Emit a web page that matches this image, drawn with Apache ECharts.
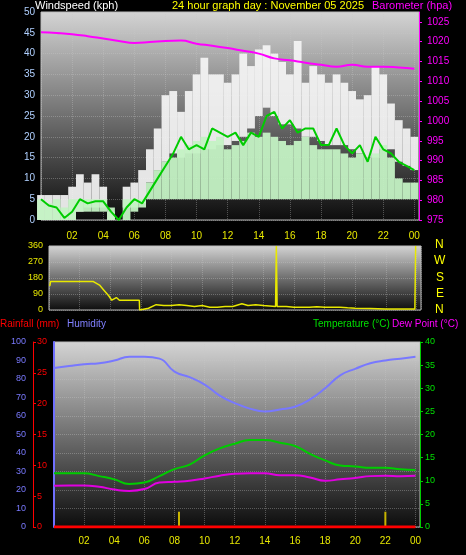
<!DOCTYPE html>
<html>
<head>
<meta charset="utf-8">
<script src="https://cdn.jsdelivr.net/npm/echarts@6/dist/echarts.min.js"></script>
<style>html,body{margin:0;padding:0;background:#000}#main{width:466px;height:555px}</style>
</head>
<body>
<div id="main"></div>
<script>
// half-hour samples 00:00 .. 24:00
var halfHours = [];
for (var i = 0; i <= 48; i++) halfHours.push(i / 2);
var gustHi = [6,6,6,6,8,11,9,11,8,2,0,8,9,12,17,22,30,31,26,31,35,39,35,35,33,35,40,37,41,42,40,38,35,43,33,37,35,33,35,33,31,29,30,37,35,28,24,22,20];
var gustLo = [0,0,0,0,0,2,3,3,3,0,0,3,3,4,9,12,14,16,15,16,16,17,17,18,18,19,20,22,25,27,25,23,23,22,20,20,19,18,18,18,17,16,15,15,17,17,14,13,12];
var windHi = [5,4,5,3,5,5,5,5,5,3,0,5,5,5,9,12,14,15,17,18,19,20,19,20,17,18,19,21,20,21,20,19,18,19,20,18,17,17,17,16,15,16,15,16,18,15,10,9,9];
var windLo = [0,0,0,0,0,2,2,2,2,0,0,0,2,3,5,5,5,5,5,5,5,5,5,5,5,5,5,5,5,5,5,5,5,5,5,5,5,5,5,5,5,5,5,5,5,5,5,5,5];
var windAvg = [5,3.5,3,0.5,2,5,4,4.5,4.5,2,0,3,5,4,7,10,13,16,20,17,18,17,22,21,20,21,18,21,20,25,26,22,24,21,22,22,18,18,22,18,16,18,14,20,17,16,14,13,12];

// hourly samples 00 .. 24
var hours = [0,1,2,3,4,5,6,7,8,9,10,11,12,13,14,15,16,17,18,19,20,21,22,23,24];
var baro = [1022.4,1022.2,1021.9,1021.4,1020.8,1020.2,1019.7,1019.9,1020.2,1020.3,1019.5,1019.0,1018.4,1017.7,1017.0,1015.8,1015.3,1014.7,1014.2,1013.7,1014.2,1013.7,1013.7,1013.5,1013.2];
var humidity = [86,87,88,88.5,90,92,92,91,84,81,77,71,67,64,62.5,63.5,65,69,75,82,85.5,88.5,90,91,92];
var temperature = [11.6,11.6,11.6,11,10.3,9.3,9.6,11,12.5,13.5,15.5,17,18,18.8,18.8,18.2,17.5,15.8,14.4,13.3,13.1,12.8,12.8,12.5,12.3];
var dewPoint = [8.9,9.0,9.0,8.7,8.1,7.8,8.2,9.6,9.8,10.0,10.5,11.1,11.5,11.6,11.6,11.2,11.2,10.7,10.0,10.3,10.6,11.0,11.1,11.0,11.1];
var rainfall = [0,0,0,0,0,0,0,0,0,0,0,0,0,0,0,0,0,0,0,0,0,0,0,0,0];
var markerHours = [8.3, 22];
var markerValue = [3.3, 3.3];

// wind direction [hour, degrees]
var windDir = [[0.05,135],[0.1,160],[2.9,160],[3.0,165],[3.3,140],[3.6,110],[3.9,80],[4.1,55],[4.4,70],[4.6,55],[5.9,55],[5.92,0],[6.5,10],[7,30],[7.5,25],[8,25],[8.5,30],[9,25],[9.5,20],[10,25],[10.5,15],[11,15],[11.5,20],[12,20],[12.6,35],[13,25],[13.5,30],[14,25],[14.8,20],[14.85,360],[14.9,20],[15.5,20],[16,15],[17,15],[17.5,18],[18,15],[19,15],[19.5,12],[20,10],[21,8],[22,5],[23,5],[23.9,5],[23.95,360]];

function pairs(xs, ys) {
    var out = [];
    for (var i = 0; i < xs.length; i++) out.push([xs[i], ys[i]]);
    return out;
}
function bands(xs, lo, hi) {
    var out = [];
    for (var i = 0; i < xs.length; i++) out.push([xs[i], lo[i], hi[i]]);
    return out;
}
function hourLabel(v) {
    var h = Math.round(v) % 24;
    return (h < 10 ? '0' : '') + h;
}
function bandRenderer(color) {
    return function (params, api) {
        var x = api.value(0);
        var p1 = api.coord([x - 0.25, api.value(2)]);
        var p2 = api.coord([x + 0.25, api.value(1)]);
        return {type: 'rect', shape: {x: p1[0], y: p1[1], width: p2[0] - p1[0], height: p2[1] - p1[1]},
            style: {fill: color}};
    };
}

var bgGrad = new echarts.graphic.LinearGradient(0, 0, 0, 1, [
    {offset: 0, color: '#d4d4d4'}, {offset: 1, color: '#0c0c0c'}
]);
var split = {show: true, lineStyle: {color: 'rgba(200,200,200,0.35)', type: 'dotted'}};
var font = 'Liberation Sans';

function timeAxis(gi, showLabels, margin) {
    return {
        type: 'value', gridIndex: gi, min: 0, max: 24.3, interval: 2,
        axisLine: {show: false}, axisTick: {show: false},
        axisLabel: {show: showLabels, color: '#e8e800', fontSize: 10, fontFamily: font,
            margin: margin, formatter: hourLabel, showMaxLabel: false, showMinLabel: false},
        splitLine: split
    };
}

var option = {
    backgroundColor: '#000',
    animation: false,
    grid: [
        {left: 41, right: 47, top: 12, bottom: 335, show: true, backgroundColor: bgGrad, borderColor: '#bbb', borderWidth: 1},
        {left: 49, right: 45, top: 246, bottom: 245, show: true, backgroundColor: bgGrad, borderColor: '#bbb', borderWidth: 1},
        {left: 54, right: 46, top: 342, bottom: 28, show: true, backgroundColor: bgGrad, borderColor: '#bbb', borderWidth: 1}
    ],
    xAxis: [
        timeAxis(0, true, 11),
        timeAxis(1, false, 8),
        timeAxis(2, true, 9)
    ],
    yAxis: [
        {type: 'value', gridIndex: 0, position: 'left', min: 0, max: 50, interval: 5,
            axisLine: {show: false}, axisTick: {show: false},
            axisLabel: {color: '#b0d0ff', fontSize: 10, fontFamily: font, margin: 6}, splitLine: split},
        {type: 'value', gridIndex: 0, position: 'right', min: 975, max: 1027.5, interval: 5,
            axisLine: {show: true, lineStyle: {color: '#ff00ff'}}, axisTick: {show: true, length: 3},
            axisLabel: {color: '#ff00ff', fontSize: 10, fontFamily: font, margin: 8, showMaxLabel: false,
                formatter: function (v) { return String(v); }}, splitLine: {show: false}},
        {type: 'value', gridIndex: 1, position: 'left', min: 0, max: 360, interval: 90,
            axisLine: {show: false}, axisTick: {show: false},
            axisLabel: {color: '#e8e800', fontSize: 9, fontFamily: font, margin: 6}, splitLine: split},
        {type: 'value', gridIndex: 2, position: 'left', min: 0, max: 100, interval: 10, offset: 24,
            axisLine: {show: true, lineStyle: {color: '#7070ff', width: 2}}, axisTick: {show: false},
            axisLabel: {color: '#7a7aff', fontSize: 9, fontFamily: font, margin: 4}, splitLine: split},
        {type: 'value', gridIndex: 2, position: 'left', min: 0, max: 30, interval: 5, offset: 21,
            axisLine: {show: true, lineStyle: {color: '#ff0000'}}, axisTick: {show: true, inside: true, length: 3},
            axisLabel: {color: '#ff0000', fontSize: 9, fontFamily: font, inside: true, margin: 4}, splitLine: {show: false}},
        {type: 'value', gridIndex: 2, position: 'right', min: 0, max: 40, interval: 5,
            axisLine: {show: true, lineStyle: {color: '#00cc00'}}, axisTick: {show: true, length: 3},
            axisLabel: {color: '#00e000', fontSize: 9, fontFamily: font, margin: 5}, splitLine: {show: false}}
    ],
    graphic: [
        {type: 'text', left: 35, top: 0, style: {text: 'Windspeed (kph)', fill: '#fff', font: '11px ' + font}},
        {type: 'text', left: 172, top: 0, style: {text: '24 hour graph day : November 05 2025', fill: '#ffff00', font: '11px ' + font}},
        {type: 'text', left: 372, top: 0, style: {text: 'Barometer (hpa)', fill: '#ff00ff', font: '11px ' + font}},
        {type: 'text', left: 435, top: 239, style: {text: 'N', fill: '#ffff00', font: '12px ' + font}},
        {type: 'text', left: 434, top: 255, style: {text: 'W', fill: '#ffff00', font: '12px ' + font}},
        {type: 'text', left: 436, top: 272, style: {text: 'S', fill: '#ffff00', font: '12px ' + font}},
        {type: 'text', left: 436, top: 288, style: {text: 'E', fill: '#ffff00', font: '12px ' + font}},
        {type: 'text', left: 435, top: 304, style: {text: 'N', fill: '#ffff00', font: '12px ' + font}},
        {type: 'text', left: 0, top: 319, style: {text: 'Rainfall (mm)', fill: '#ff0000', font: '10px ' + font}},
        {type: 'text', left: 67, top: 319, style: {text: 'Humidity', fill: '#8080ff', font: '10px ' + font}},
        {type: 'text', left: 313, top: 319, style: {text: 'Temperature (\u00b0C)', fill: '#00e000', font: '10px ' + font}},
        {type: 'text', left: 392, top: 319, style: {text: 'Dew Point (\u00b0C)', fill: '#ff00ff', font: '10px ' + font}}
    ],
    series: [
        {type: 'custom', xAxisIndex: 0, yAxisIndex: 0, renderItem: bandRenderer('rgba(245,245,245,0.92)'),
            encode: {x: 0, y: [1, 2]}, data: bands(halfHours, gustLo, gustHi)},
        {type: 'custom', xAxisIndex: 0, yAxisIndex: 0, renderItem: bandRenderer('rgba(196,242,196,0.95)'),
            encode: {x: 0, y: [1, 2]}, data: bands(halfHours, windLo, windHi)},
        {type: 'line', xAxisIndex: 0, yAxisIndex: 0, symbol: 'none', lineStyle: {color: '#00cc00', width: 2},
            data: pairs(halfHours, windAvg)},
        {type: 'line', xAxisIndex: 0, yAxisIndex: 1, symbol: 'none', smooth: true, lineStyle: {color: '#ff00ff', width: 2},
            data: pairs(hours, baro)},
        // direction
        {type: 'line', xAxisIndex: 1, yAxisIndex: 2, symbol: 'none', lineStyle: {color: '#e8e800', width: 1.5},
            data: windDir},
        // bottom chart
        {type: 'line', xAxisIndex: 2, yAxisIndex: 3, symbol: 'none', smooth: true, lineStyle: {color: '#7878ff', width: 2},
            data: pairs(hours, humidity)},
        {type: 'line', xAxisIndex: 2, yAxisIndex: 5, symbol: 'none', smooth: true, lineStyle: {color: '#00cc00', width: 2},
            data: pairs(hours, temperature)},
        {type: 'line', xAxisIndex: 2, yAxisIndex: 5, symbol: 'none', smooth: true, lineStyle: {color: '#e000e0', width: 2},
            data: pairs(hours, dewPoint)},
        {type: 'bar', xAxisIndex: 2, yAxisIndex: 5, barWidth: 2, itemStyle: {color: '#c8b400'},
            data: pairs(markerHours, markerValue)},
        {type: 'line', xAxisIndex: 2, yAxisIndex: 4, symbol: 'none', lineStyle: {color: '#ff0000', width: 3},
            data: pairs(hours, rainfall)}
    ]
};

var myChart = echarts.init(document.getElementById('main'));
myChart.setOption(option);
</script>
</body>
</html>
